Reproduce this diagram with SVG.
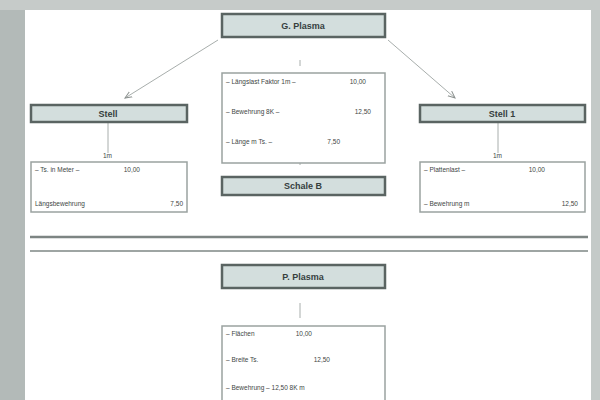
<svg xmlns="http://www.w3.org/2000/svg" width="600" height="400" viewBox="0 0 600 400">
<defs>
<style>
.hdr{fill:#d3dedd;stroke:#5a6462;stroke-width:2.5}
.body{fill:#ffffff;stroke:#9aa2a0;stroke-width:1.5}
.ht{font-family:"Liberation Sans",Arial,sans-serif;font-size:9px;font-weight:bold;fill:#36403e;text-anchor:middle}
.bt{font-family:"Liberation Sans",Arial,sans-serif;font-size:6.5px;fill:#3e4644}
.bv{font-family:"Liberation Sans",Arial,sans-serif;font-size:6.5px;fill:#3e4644;text-anchor:end}
.con{stroke:#a8aeac;stroke-width:1;fill:none}
</style>
<marker id="ar" markerWidth="8" markerHeight="8" refX="7" refY="4" orient="auto" markerUnits="userSpaceOnUse">
<path d="M0,1 L7,4 L0,7" fill="none" stroke="#8a908e" stroke-width="1"/>
</marker>
</defs>
<rect width="600" height="400" fill="#b3bab8"/>
<rect x="0" y="0" width="600" height="10" fill="#c6cbc9"/>
<rect x="25" y="10" width="566" height="390" fill="#ffffff"/>
<rect x="591" y="10" width="9" height="390" fill="#c4cac8"/>
<line x1="30" y1="237" x2="588" y2="237" stroke="#7d8583" stroke-width="2.5"/>
<line x1="30" y1="251" x2="588" y2="251" stroke="#9ea5a3" stroke-width="2"/>
<g id="connectors">
<line class="con" x1="218" y1="40" x2="125" y2="98" marker-end="url(#ar)"/>
<line class="con" x1="388" y1="40" x2="455" y2="98" marker-end="url(#ar)"/>
<line class="con" x1="300" y1="60" x2="300" y2="66"/>
<line class="con" x1="300" y1="158" x2="300" y2="165"/>
<line class="con" x1="108" y1="122" x2="108" y2="153"/>
<line class="con" x1="498" y1="122" x2="498" y2="153"/>
<line class="con" x1="300" y1="303" x2="300" y2="318"/>
</g>
<g id="top">
<rect class="hdr" x="222" y="14" width="163" height="23"/>
<text class="ht" x="303" y="29">G. Plasma</text>
</g>
<g id="center">
<rect class="body" x="222" y="73" width="163" height="90"/>
<text class="bt" x="226" y="84">– Längslast Faktor 1m  –</text><text class="bv" x="366" y="84">10,00</text>
<text class="bt" x="226" y="114">– Bewehrung 8K  –</text><text class="bv" x="371" y="114">12,50</text>
<text class="bt" x="226" y="144">– Länge m   Ts.  –</text><text class="bv" x="340" y="144">7,50</text>
</g>
<g id="schale">
<rect class="hdr" x="222" y="177" width="163" height="18"/>
<text class="ht" x="303" y="189">Schale B</text>
</g>
<g id="left">
<rect class="hdr" x="31" y="105" width="156" height="17"/>
<text class="ht" x="108" y="117">Stell</text>
<text class="bt" x="103" y="158">1m</text>
<rect class="body" x="31" y="162" width="156" height="50"/>
<text class="bt" x="35" y="172">– Ts. in Meter –</text><text class="bv" x="140" y="172">10,00</text>
<text class="bt" x="35" y="206">Längsbewehrung</text><text class="bv" x="183" y="206">7,50</text>
</g>
<g id="right">
<rect class="hdr" x="420" y="105" width="165" height="17"/>
<text class="ht" x="502" y="117">Stell 1</text>
<text class="bt" x="493" y="158">1m</text>
<rect class="body" x="420" y="162" width="165" height="50"/>
<text class="bt" x="424" y="172">– Plattenlast –</text><text class="bv" x="545" y="172">10,00</text>
<text class="bt" x="424" y="206">– Bewehrung m</text><text class="bv" x="578" y="206">12,50</text>
</g>
<g id="bottom">
<rect class="hdr" x="222" y="265" width="163" height="23"/>
<text class="ht" x="303" y="280">P. Plasma</text>
</g>
<g id="bottombody">
<rect class="body" x="222" y="326" width="163" height="80"/>
<text class="bt" x="226" y="336">– Flächen</text><text class="bv" x="312" y="336">10,00</text>
<text class="bt" x="226" y="362">– Breite Ts.</text><text class="bv" x="330" y="362">12,50</text>
<text class="bt" x="226" y="390">– Bewehrung – 12,50  8K  m</text>
</g>
</svg>
